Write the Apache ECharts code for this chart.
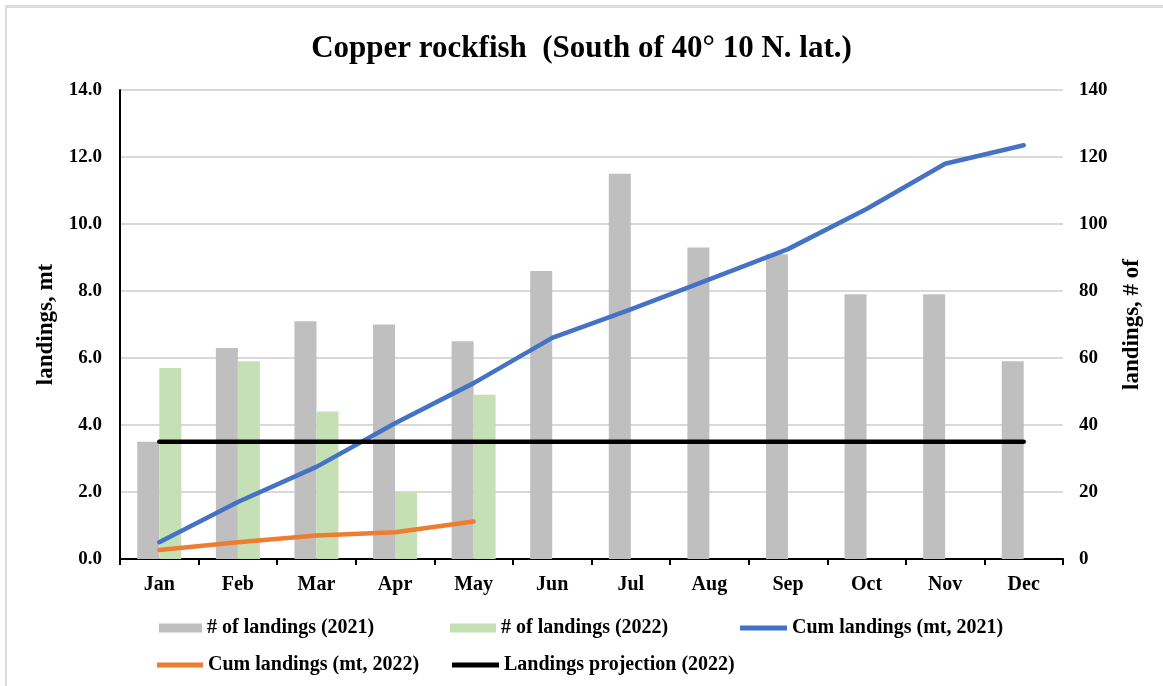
<!DOCTYPE html>
<html>
    <head>
        <meta charset="utf-8">
        <script src="https://cdn.jsdelivr.net/npm/echarts@6/dist/echarts.min.js"></script>
        <style>
            html, body { margin: 0; padding: 0; background: #fff; }
            #frame { position: absolute; left: 0; top: 0; width: 1163px; height: 686px; }
            #edge { position: absolute; left: 5px; top: 5px; right: 0; bottom: 0;
                    border-top: 3px solid #dcdcdc; border-left: 2px solid #dcdcdc; }
            #main { position: absolute; left: 0; top: 0; width: 1163px; height: 686px; }
        </style>
    </head>
    <body>
    <div id="frame"><div id="edge"></div></div>
    <!-- chart container -->
    <div id="main"></div>
    <script type="text/javascript">
        // data
        var months = ['Jan', 'Feb', 'Mar', 'Apr', 'May', 'Jun', 'Jul', 'Aug', 'Sep', 'Oct', 'Nov', 'Dec'];
        var landings2021 = [35, 63, 71, 70, 65, 86, 115, 93, 91, 79, 79, 59];
        var landings2022 = [57, 59, 44, 20, 49];
        var cum2021 = [0.5, 1.7, 2.75, 4.05, 5.25, 6.6, 7.45, 8.35, 9.25, 10.45, 11.8, 12.35];
        var cum2022 = [0.27, 0.5, 0.7, 0.8, 1.12];
        var projection2022 = [3.5, 3.5, 3.5, 3.5, 3.5, 3.5, 3.5, 3.5, 3.5, 3.5, 3.5, 3.5];

        var fontName = '"Liberation Serif", "Times New Roman", serif';
        var legendText = { fontFamily: fontName, fontSize: 20, fontWeight: 'bold', color: '#000' };

        // one legend per entry so each sits where the reference has it
        function oneLegend(name, left, top, w, h) {
            return {
                data: [{ name: name, icon: 'rect' }],
                left: left, top: top,
                itemWidth: w, itemHeight: h,
                textStyle: legendText,
                padding: 0
            };
        }

        var myChart = echarts.init(document.getElementById('main'), null, {renderer: 'canvas'});

        var option = {
            backgroundColor: 'transparent',
            textStyle: { fontFamily: fontName },
            title: {
                text: 'Copper rockfish  (South of 40\u00b0 10 N. lat.)',
                left: 'center',
                top: 28,
                textStyle: { fontFamily: fontName, fontSize: 31, fontWeight: 'bold', color: '#000' }
            },
            legend: [
                oneLegend('# of landings (2021)', 159, 618, 43, 9),
                oneLegend('# of landings (2022)', 450, 618, 46, 9),
                oneLegend('Cum landings (mt, 2021)', 740, 618, 47, 5),
                oneLegend('Cum landings (mt, 2022)', 157, 655, 46, 5),
                oneLegend('Landings projection (2022)', 452, 655, 47, 5)
            ],
            grid: { left: 120, right: 100, top: 90, bottom: 127 },
            xAxis: {
                type: 'category',
                data: months,
                axisLine: { lineStyle: { color: '#000', width: 2 } },
                axisTick: { show: true, length: 6, lineStyle: { color: '#000', width: 2 } },
                axisLabel: { fontFamily: fontName, fontSize: 20, fontWeight: 'bold', color: '#000', margin: 16 }
            },
            yAxis: [{
                type: 'value',
                min: 0, max: 14, interval: 2,
                name: 'landings, mt',
                nameLocation: 'middle',
                nameGap: 58,
                nameRotate: 90,
                nameTextStyle: { fontFamily: fontName, fontSize: 23, fontWeight: 'bold', color: '#000' },
                axisLine: { show: true, lineStyle: { color: '#000', width: 2 } },
                axisTick: { show: false },
                axisLabel: {
                    fontFamily: fontName, fontSize: 19, fontWeight: 'bold', color: '#000', margin: 18,
                    formatter: function (v) { return v.toFixed(1); }
                },
                splitLine: { lineStyle: { color: '#d9d9d9', width: 2 } }
            }, {
                type: 'value',
                min: 0, max: 140, interval: 20,
                name: 'landings, # of',
                nameLocation: 'middle',
                nameGap: 58,
                nameRotate: 90,
                nameTextStyle: { fontFamily: fontName, fontSize: 23, fontWeight: 'bold', color: '#000' },
                axisLine: { show: false },
                axisTick: { show: false },
                axisLabel: { fontFamily: fontName, fontSize: 19, fontWeight: 'bold', color: '#000', margin: 16 },
                splitLine: { show: false }
            }],
            series: [{
                name: '# of landings (2021)',
                type: 'bar',
                yAxisIndex: 1,
                data: landings2021,
                barWidth: 22,
                barGap: '0%',
                itemStyle: { color: '#bfbfbf' }
            }, {
                name: '# of landings (2022)',
                type: 'bar',
                yAxisIndex: 1,
                data: landings2022,
                barWidth: 22,
                barGap: '0%',
                itemStyle: { color: '#c5e0b4' }
            }, {
                name: 'Cum landings (mt, 2021)',
                type: 'line',
                yAxisIndex: 0,
                data: cum2021,
                symbol: 'none',
                lineStyle: { color: '#4472c4', width: 4.5, cap: 'round' },
                itemStyle: { color: '#4472c4' }
            }, {
                name: 'Cum landings (mt, 2022)',
                type: 'line',
                yAxisIndex: 0,
                data: cum2022,
                symbol: 'none',
                lineStyle: { color: '#ed7d31', width: 4.5, cap: 'round' },
                itemStyle: { color: '#ed7d31' }
            }, {
                name: 'Landings projection (2022)',
                type: 'line',
                yAxisIndex: 0,
                data: projection2022,
                symbol: 'none',
                lineStyle: { color: '#000', width: 4.5, cap: 'round' },
                itemStyle: { color: '#000' }
            }]
        };

        myChart.setOption(option);
    </script>
    </body>
</html>
